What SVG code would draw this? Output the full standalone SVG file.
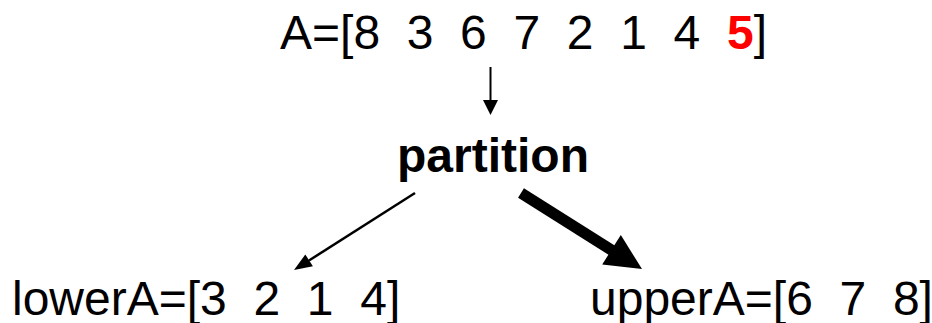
<svg xmlns="http://www.w3.org/2000/svg" width="932" height="323" viewBox="0 0 932 323">
<style>
text{font-family:"Liberation Sans",Arial,sans-serif;font-size:48px;fill:#000;white-space:pre}
.b{font-weight:bold}
.red{fill:#ff0000;font-weight:bold}
.ln{stroke:#000;fill:none}
.hd{fill:#000;stroke:none}
</style>
<rect width="932" height="323" fill="#fff"/>
<g id="nodeA"><text x="280" y="49" xml:space="preserve">A=[8  3  6  7  2  1  4  <tspan class="red">5</tspan>]</text></g>
<g id="partition"><text class="b" x="397" y="172">partition</text></g>
<g id="lowerA"><text x="12" y="315" xml:space="preserve">lowerA=[3  2  1  4]</text></g>
<g id="upperA"><text x="590" y="315" xml:space="preserve">upperA=[6  7  8]</text></g>
<g id="connectors">
<line class="ln" x1="490.5" y1="67" x2="490.5" y2="101" stroke-width="2"/>
<polygon class="hd" points="483,100 498,100 490.5,115"/>
<line class="ln" x1="415" y1="193" x2="309" y2="260.5" stroke-width="2.5"/>
<polygon class="hd" points="294,270 312.9,266.2 305.3,254.4"/>
<line class="ln" x1="521" y1="193" x2="613" y2="251" stroke-width="11"/>
<polygon class="hd" points="642,269 602.2,264.6 620.8,235"/>
</g>
</svg>
